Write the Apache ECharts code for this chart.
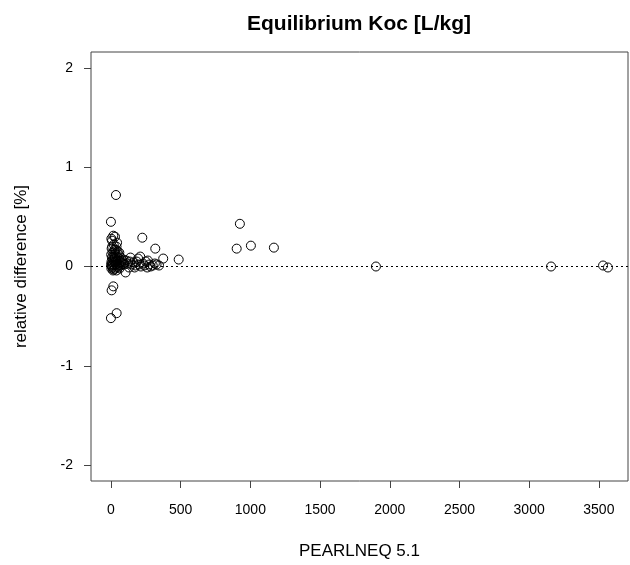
<!DOCTYPE html>
<html>
<head>
<meta charset="utf-8">
<script src="https://cdn.jsdelivr.net/npm/echarts@6/dist/echarts.min.js"></script>
<style>html,body{margin:0;padding:0;background:#fff}#c{width:630px;height:565px}</style>
</head>
<body>
<div id="c"></div>
<script>
const xTicks = [0, 500, 1000, 1500, 2000, 2500, 3000, 3500];
const yTicks = [-2, -1, 0, 1, 2];
const xVals = [
  0, 36, 29, 3, 17, 8, 20, 40, 5, 25, 48, 12, 33, 2, 55, 18, 42, 7, 28, 60,
  14, 38, 50, 4, 22, 66, 10, 31, 45, 75, 1, 16, 35, 58, 85, 6, 26, 47, 70, 12,
  30, 52, 3, 20, 40, 15, 62, 105, 5, 24, 44, 9, 35, 60, 28, 70, 80, 90,
  110, 120, 135, 150, 160, 175, 185, 195, 200, 215, 230, 240, 250, 265, 275, 285, 300, 315, 327, 345, 130, 170, 210, 95, 140, 260,
  225, 318, 375, 486, 902, 925, 1004, 1169, 1901, 3157, 3530, 3565, 17, 5, 41, 0
];
const yVals = [
  0.45, 0.72, 0.30, 0.28, 0.31, 0.26, 0.22, 0.20, 0.18, 0.17, 0.15, 0.14, 0.13, 0.12, 0.12, 0.10, 0.10, 0.09, 0.08, 0.08,
  0.07, 0.06, 0.06, 0.05, 0.05, 0.05, 0.04, 0.04, 0.03, 0.04, 0.02, 0.02, 0.02, 0.02, 0.03, 0.01, 0.01, 0.00, 0.01, -0.01,
  -0.02, -0.01, -0.02, -0.03, -0.04, -0.04, -0.02, -0.06, 0.00, 0.15, 0.24, 0.20, 0.17, 0.14, 0.10, 0.09, 0.06, 0.07,
  0.06, 0.03, 0.05, 0.02, 0.04, 0.01, 0.05, 0.08, 0.02, 0.00, 0.03, 0.01, 0.05, 0.06, 0.02, 0.00, 0.01, 0.03, 0.02, 0.01, -0.01, -0.01, 0.10, 0.02, 0.09, -0.01,
  0.29, 0.18, 0.08, 0.07, 0.18, 0.43, 0.21, 0.19, 0.00, 0.00, 0.01, -0.01, -0.20, -0.24, -0.47, -0.52
];
const data = xVals.map((x, i) => [x, yVals[i]]);
const font = 'Liberation Sans, Arial, sans-serif';
const chart = echarts.init(document.getElementById('c'), null, {renderer: 'canvas'});
chart.setOption({
  animation: false,
  backgroundColor: '#fff',
  title: {
    text: 'Equilibrium Koc [L/kg]',
    left: 354, top: 9, textAlign: 'center',
    textStyle: {fontFamily: font, fontSize: 21, fontWeight: 'bold', color: '#000'}
  },
  grid: {left: 91, right: 2, top: 52, bottom: 82, show: true, borderColor: '#444', borderWidth: 1, backgroundColor: 'transparent'},
  xAxis: {
    type: 'value', min: -143, max: 3709,
    name: 'PEARLNEQ 5.1', nameLocation: 'middle', nameGap: 62,
    nameTextStyle: {fontFamily: font, fontSize: 17, color: '#000'},
    axisLine: {show: false, onZero: false},
    splitLine: {show: false},
    axisTick: {show: true, length: 7, inside: false, lineStyle: {color: '#444', width: 1}, customValues: xTicks},
    axisLabel: {customValues: xTicks, margin: 22, fontFamily: font, fontSize: 14, color: '#000', formatter: v => String(v)}
  },
  yAxis: {
    type: 'value', min: -2.16, max: 2.16,
    name: 'relative difference [%]', nameLocation: 'middle', nameGap: 61,
    nameTextStyle: {fontFamily: font, fontSize: 17, color: '#000'},
    axisLine: {show: false, onZero: false},
    splitLine: {show: false},
    axisTick: {show: true, length: 7, inside: false, lineStyle: {color: '#444', width: 1}, customValues: yTicks},
    axisLabel: {customValues: yTicks, margin: 18, fontFamily: font, fontSize: 14, color: '#000', formatter: v => String(v)}
  },
  series: [{
    type: 'scatter',
    data: data,
    symbol: 'circle',
    symbolSize: 9,
    itemStyle: {color: 'rgba(0,0,0,0)', borderColor: '#000', borderWidth: 1, opacity: 1},
    markLine: {
      silent: true, symbol: ['none', 'none'], label: {show: false},
      lineStyle: {type: [2, 3], color: '#000', width: 1},
      data: [{yAxis: 0}]
    }
  }]
});
</script>
</body>
</html>
